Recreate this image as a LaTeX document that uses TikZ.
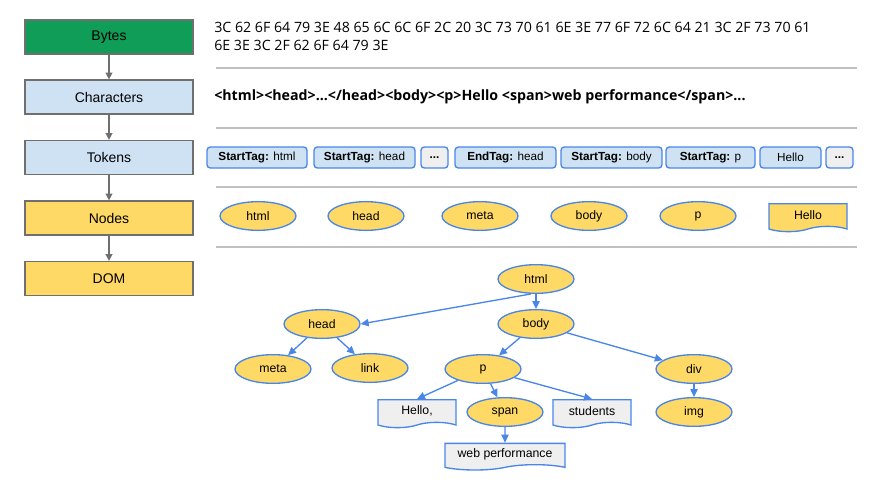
\documentclass[tikz,border=0pt]{standalone}
\usepackage{fontspec}
\setmainfont{Liberation Sans}
\newfontfamily\opensans{Open Sans}
\usetikzlibrary{shapes.geometric,shapes.symbols,arrows.meta}
\definecolor{bytegreen}{HTML}{0F9D58}
\definecolor{lightblue}{HTML}{CFE2F3}
\definecolor{domyellow}{HTML}{FFD966}
\definecolor{tagblue}{HTML}{4A86E8}
\definecolor{docgray}{HTML}{EFEFEF}
\definecolor{rulegray}{HTML}{C0C0C0}
\definecolor{arrowgray}{HTML}{6F6F6F}
\tikzset{
  stage/.style={draw=arrowgray,line width=0.9pt,minimum width=126pt,minimum height=25.5pt,inner sep=0pt,font=\fontsize{10.5}{12}\selectfont},
  stagearrow/.style={draw=arrowgray,line width=1pt,-{Triangle[length=5pt,width=5pt]}},
  rule/.style={draw=rulegray,line width=1.1pt},
  hex/.style={anchor=west,inner sep=0pt,font=\opensans\fontsize{10.65}{12}\selectfont},
  token/.style={draw=tagblue,line width=1pt,rounded corners=2.5pt,minimum height=15.75pt,inner sep=0pt,font=\fontsize{8.8}{10}\selectfont},
  elem/.style={ellipse,draw=tagblue,fill=domyellow,line width=1pt,minimum width=57pt,minimum height=21.5pt,inner sep=1pt,font=\fontsize{9.2}{10}\selectfont},
  doc/.style={tape,tape bend top=none,tape bend height=4pt,draw=tagblue,fill=docgray,line width=1pt,minimum width=58.5pt,minimum height=21pt,inner sep=1pt,font=\fontsize{9.2}{10}\selectfont},
  treearrow/.style={draw=tagblue,line width=1pt,-{Triangle[length=6pt,width=5.5pt]}}
}
\begin{document}
\begin{tikzpicture}[x=0.75pt,y=-0.75pt]
\useasboundingbox (0,0) rectangle (893,483);
% left column
\node[stage,fill=bytegreen] (bytes) at (109,37) {Bytes};
\node[stage,fill=lightblue] (chars) at (109,97) {Characters};
\node[stage,fill=lightblue] (tokens) at (109,157.5) {Tokens};
\node[stage,fill=domyellow] (nodes) at (109,218) {Nodes};
\node[stage,fill=domyellow] (dom) at (109,278.5) {DOM};
\draw[stagearrow] (bytes) -- (chars);
\draw[stagearrow] (chars) -- (tokens);
\draw[stagearrow] (tokens) -- (nodes);
\draw[stagearrow] (nodes) -- (dom);
\foreach \y in {68,128,187,247}{\draw[rule] (216,\y) -- (857,\y);}
% bytes and characters
\node[hex] (hexa) at (214,27) {3C 62 6F 64 79 3E 48 65 6C 6C 6F 2C 20 3C 73 70 61 6E 3E 77 6F 72 6C 64 21 3C 2F 73 70 61};
\node[hex] (hexb) at (214,45) {6E 3E 3C 2F 62 6F 64 79 3E};
\node[hex,font=\opensans\bfseries\fontsize{10.65}{12}\selectfont] (charline) at (214,97) {<html><head>...</head><body><p>Hello <span>web performance</span>...};
% tokens
\foreach \cx/\w/\txt/\col [count=\i] in {257/100/{\textbf{StartTag:} html}/lightblue,364.5/101/{\textbf{StartTag:} head}/lightblue,434.5/27/{\textbf{...}}/docgray,505.5/101/{\textbf{EndTag:} head}/lightblue,611.5/101/{\textbf{StartTag:} body}/lightblue,710.5/89/{\textbf{StartTag:} p}/lightblue,790.5/61/{Hello}/lightblue,839.5/27/{\textbf{...}}/docgray}
  \node[token,fill=\col,minimum width=\w*0.75pt] (tok\i) at (\cx,157.5) {\txt};
% nodes
\foreach \cx/\txt [count=\i] in {258/html,366/head,480/meta,589/body,698/p}
  \node[elem] (elem\i) at (\cx,216) {\txt};
\node[doc,fill=domyellow] (elemtext) at (808,215) {Hello};
% dom tree
\node[elem] (html) at (536,279) {html};
\node[elem] (head) at (322,324) {head};
\node[elem] (body) at (536,324) {body};
\node[elem] (meta) at (273,369) {meta};
\node[elem] (link) at (370,368) {link};
\node[elem] (p) at (483,369) {p};
\node[elem] (div) at (694,369) {div};
\node[doc] (hello) at (417,411) {Hello,};
\node[elem] (span) at (505,412) {span};
\node[doc] (students) at (592,411) {students};
\node[elem] (img) at (694,412) {img};
\node[doc,minimum width=90pt,minimum height=20pt] (web) at (505,454) {web performance};
\draw[treearrow] ([xshift=-4pt]html.south) -- (head.east);
\draw[treearrow] (html) -- (body);
\draw[treearrow] (head) -- (meta);
\draw[treearrow] (head) -- (link);
\draw[treearrow] (body) -- (p);
\draw[treearrow] (body) -- (div);
\draw[treearrow] (p) -- (hello.north);
\draw[treearrow] (p) -- (span);
\draw[treearrow] (p) -- (students.north);
\draw[treearrow] (span) -- (web);
\draw[treearrow] (div) -- (img);
\end{tikzpicture}
\end{document}
